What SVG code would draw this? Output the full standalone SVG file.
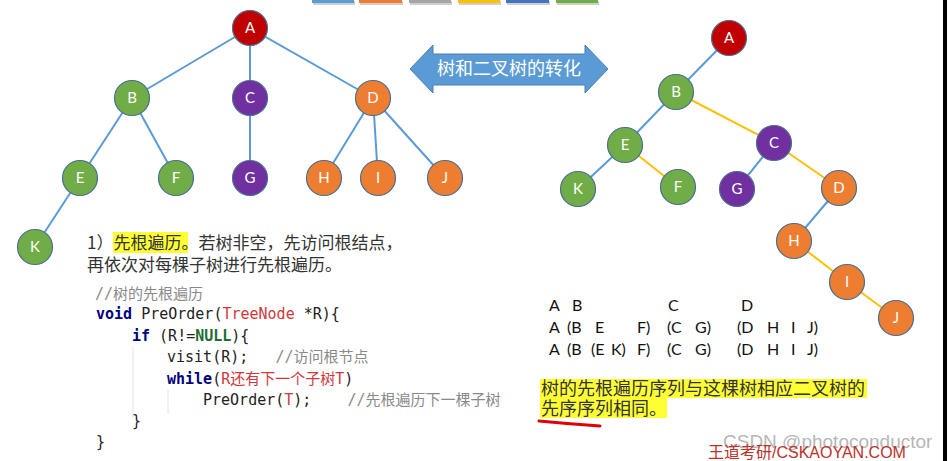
<svg xmlns="http://www.w3.org/2000/svg" width="948" height="461" viewBox="0 0 948 461">
<style>
.n{stroke:#4a6f91;stroke-width:1.2}
.red{fill:#c00000}.grn{fill:#70ad47}.pur{fill:#7030a0}.org{fill:#ed7d31}
.lbl{font-family:Lato,"Open Sans","Liberation Sans",sans-serif;font-size:15px;fill:#fff;text-anchor:middle}
.eb{stroke:#5b9bd5;stroke-width:2;fill:none}
.ey{stroke:#ffc000;stroke-width:2;fill:none}
.cn{font-family:"Noto Sans CJK SC","Noto Sans",sans-serif;font-size:17px;fill:#333}
.code{font-family:"DejaVu Sans Mono","Noto Sans CJK SC",monospace;font-size:15px;fill:#222;white-space:pre}
.kw{fill:#000080;font-weight:bold}
.ty{fill:#d0383b}
.gr{fill:#1e6b35;font-weight:bold}
.cm{fill:#8a8a8a}
.seq{font-family:Lato,"Open Sans","Liberation Sans",sans-serif;font-size:16px;fill:#111}
.hl{fill:#ffff33}
.big{font-family:"Noto Sans CJK SC","Noto Sans",sans-serif;font-size:18px;fill:#333}
</style>

<!-- top colour bars -->
<g id="colorbars">
<rect x="313" y="1" width="42" height="4" fill="#cfcfcf"/>
<rect x="312" y="-2" width="42" height="5" fill="#5b9bd5"/>
<rect x="360" y="1" width="43" height="4" fill="#cfcfcf"/>
<rect x="359" y="-2" width="43" height="5" fill="#ed7d31"/>
<rect x="410" y="1" width="42" height="4" fill="#cfcfcf"/>
<rect x="409" y="-2" width="42" height="5" fill="#a5a5a5"/>
<rect x="459" y="1" width="42" height="4" fill="#cfcfcf"/>
<rect x="458" y="-2" width="42" height="5" fill="#ffc000"/>
<rect x="507" y="1" width="43" height="4" fill="#cfcfcf"/>
<rect x="506" y="-2" width="43" height="5" fill="#4472c4"/>
<rect x="557" y="1" width="42" height="4" fill="#cfcfcf"/>
<rect x="556" y="-2" width="42" height="5" fill="#70ad47"/>
</g>

<rect x="943" y="0" width="4" height="461" fill="#000"/>

<!-- connectors -->
<g id="connectors">
<line class="eb" x1="250" y1="28" x2="132" y2="98"/>
<line class="eb" x1="250" y1="28" x2="250" y2="98"/>
<line class="eb" x1="250" y1="28" x2="373" y2="98"/>
<line class="eb" x1="132" y1="98" x2="80" y2="178"/>
<line class="eb" x1="132" y1="98" x2="176" y2="178"/>
<line class="eb" x1="250" y1="98" x2="250" y2="178"/>
<line class="eb" x1="373" y1="98" x2="324" y2="178"/>
<line class="eb" x1="373" y1="98" x2="378" y2="178"/>
<line class="eb" x1="373" y1="98" x2="445" y2="178"/>
<line class="eb" x1="80" y1="178" x2="35" y2="247"/>

<line class="eb" x1="729" y1="38" x2="676" y2="92"/>
<line class="eb" x1="676" y1="92" x2="625" y2="145"/>
<line class="eb" x1="625" y1="145" x2="578" y2="189"/>
<line class="eb" x1="774" y1="143" x2="737" y2="189"/>
<line class="eb" x1="839" y1="188" x2="794" y2="241"/>
<line class="ey" x1="676" y1="92" x2="774" y2="143"/>
<line class="ey" x1="625" y1="145" x2="678" y2="187"/>
<line class="ey" x1="774" y1="143" x2="839" y2="188"/>
<line class="ey" x1="794" y1="241" x2="847" y2="282"/>
<line class="ey" x1="847" y1="282" x2="896" y2="318"/>
</g>

<!-- left tree -->
<g id="tA"><circle class="n red" cx="250" cy="28" r="17.5"/><text class="lbl" x="250" y="33">A</text></g>
<g id="tB"><circle class="n grn" cx="132" cy="98" r="17.5"/><text class="lbl" x="132" y="103">B</text></g>
<g id="tC"><circle class="n pur" cx="250" cy="98" r="17.5"/><text class="lbl" x="250" y="103">C</text></g>
<g id="tD"><circle class="n org" cx="373" cy="98" r="17.5"/><text class="lbl" x="373" y="103">D</text></g>
<g id="tE"><circle class="n grn" cx="80" cy="178" r="17.5"/><text class="lbl" x="80" y="183">E</text></g>
<g id="tF"><circle class="n grn" cx="176" cy="178" r="17.5"/><text class="lbl" x="176" y="183">F</text></g>
<g id="tG"><circle class="n pur" cx="250" cy="178" r="17.5"/><text class="lbl" x="250" y="183">G</text></g>
<g id="tH"><circle class="n org" cx="324" cy="178" r="17.5"/><text class="lbl" x="324" y="183">H</text></g>
<g id="tI"><circle class="n org" cx="378" cy="178" r="17.5"/><text class="lbl" x="378" y="183">I</text></g>
<g id="tJ"><circle class="n org" cx="445" cy="178" r="17.5"/><text class="lbl" x="445" y="183">J</text></g>
<g id="tK"><circle class="n grn" cx="35" cy="247" r="17.5"/><text class="lbl" x="35" y="252">K</text></g>

<!-- right (binary) tree -->
<g id="bA"><circle class="n red" cx="729" cy="38" r="17.5"/><text class="lbl" x="729" y="43">A</text></g>
<g id="bB"><circle class="n grn" cx="676" cy="92" r="17.5"/><text class="lbl" x="676" y="97">B</text></g>
<g id="bE"><circle class="n grn" cx="625" cy="145" r="17.5"/><text class="lbl" x="625" y="150">E</text></g>
<g id="bC"><circle class="n pur" cx="774" cy="143" r="17.5"/><text class="lbl" x="774" y="148">C</text></g>
<g id="bK"><circle class="n grn" cx="578" cy="189" r="17.5"/><text class="lbl" x="578" y="194">K</text></g>
<g id="bF"><circle class="n grn" cx="678" cy="187" r="17.5"/><text class="lbl" x="678" y="192">F</text></g>
<g id="bG"><circle class="n pur" cx="737" cy="189" r="17.5"/><text class="lbl" x="737" y="194">G</text></g>
<g id="bD"><circle class="n org" cx="839" cy="188" r="17.5"/><text class="lbl" x="839" y="193">D</text></g>
<g id="bH"><circle class="n org" cx="794" cy="241" r="17.5"/><text class="lbl" x="794" y="246">H</text></g>
<g id="bI"><circle class="n org" cx="847" cy="282" r="17.5"/><text class="lbl" x="847" y="287">I</text></g>
<g id="bJ"><circle class="n org" cx="896" cy="318" r="17.5"/><text class="lbl" x="896" y="323">J</text></g>

<!-- double arrow -->
<g id="arrow">
<polygon points="410,69 433,45 433,54 585,54 585,45 608,69 585,93 585,85 433,85 433,93" fill="#5b9bd5" stroke="#4a7eb5" stroke-width="1"/>
<text x="509" y="75" text-anchor="middle" font-family="'Noto Sans CJK SC',sans-serif" font-size="18" fill="#fff">树和二叉树的转化</text>
</g>

<!-- description -->
<g id="desc">
<rect class="hl" x="113" y="232" width="75" height="21"/>
<text class="cn" x="87" y="249">1）先根遍历。若树非空，先访问根结点，</text>
<text class="cn" x="87" y="271">再依次对每棵子树进行先根遍历。</text>
</g>

<!-- code -->
<g id="code">
<line x1="133" y1="347" x2="133" y2="418" stroke="#e2e2e2" stroke-width="1"/>
<line x1="168" y1="390" x2="168" y2="414" stroke="#e2e2e2" stroke-width="1"/>
<text class="code cm" x="95" y="299">//树的先根遍历</text>
<text class="code" x="96" y="319"><tspan class="kw">void</tspan> PreOrder(<tspan class="ty">TreeNode</tspan> *R){</text>
<text class="code" x="132" y="341"><tspan class="kw">if</tspan> (R!=<tspan class="gr">NULL</tspan>){</text>
<text class="code" x="167" y="362">visit(R);   <tspan class="cm">//访问根节点</tspan></text>
<text class="code" x="167" y="384"><tspan class="kw">while</tspan>(<tspan class="ty">R还有下一个子树T</tspan>)</text>
<text class="code" x="203" y="405">PreOrder(<tspan class="ty">T</tspan>);    <tspan class="cm">//先根遍历下一棵子树</tspan></text>
<text class="code" x="132" y="426">}</text>
<text class="code" x="96" y="447">}</text>
</g>

<!-- sequences -->
<g id="seq" class="seq">
<text x="549" y="311">A</text><text x="572" y="311">B</text><text x="668" y="311">C</text><text x="741" y="311">D</text>
<text x="549" y="333">A</text><text x="567" y="333">(B</text><text x="595" y="333">E</text><text x="637" y="333">F)</text><text x="667" y="333">(C</text><text x="695" y="333">G)</text><text x="737" y="333">(D</text><text x="767" y="333">H</text><text x="791" y="333">I</text><text x="807" y="333">J)</text>
<text x="549" y="355">A</text><text x="567" y="355">(B</text><text x="591" y="355">(E</text><text x="611" y="355">K)</text><text x="637" y="355">F)</text><text x="667" y="355">(C</text><text x="695" y="355">G)</text><text x="737" y="355">(D</text><text x="767" y="355">H</text><text x="791" y="355">I</text><text x="807" y="355">J)</text>
</g>

<!-- conclusion -->
<g id="conclusion">
<rect class="hl" x="540" y="379" width="327" height="19"/>
<rect class="hl" x="540" y="398" width="127" height="20"/>
<text class="big" x="541" y="395">树的先根遍历序列与这棵树相应二叉树的</text>
<text class="big" x="541" y="415">先序序列相同。</text>
<path d="M539,421 Q570,424 600,426" stroke="#e00000" stroke-width="3" fill="none" stroke-linecap="round"/>
</g>

<!-- watermarks -->
<text x="723" y="448" font-family="'Liberation Sans',Arial,sans-serif" font-size="19" fill="#a8a8a8" fill-opacity="0.85">CSDN @photoconductor</text>
<text x="708" y="458" font-family="'Liberation Sans','Noto Sans CJK SC',sans-serif" font-size="16" fill="#c0302a">王道考研/CSKAOYAN.COM</text>
</svg>
